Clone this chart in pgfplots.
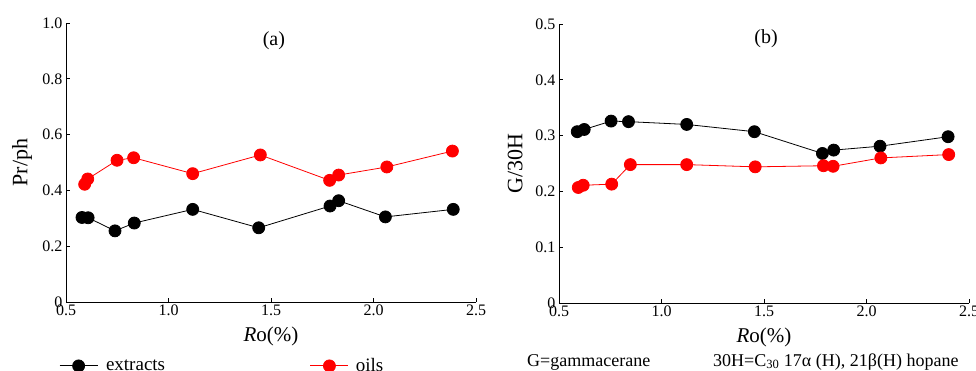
\documentclass[border=0pt]{standalone}
\usepackage{fontspec}
\setmainfont{Liberation Serif}
\usepackage{pgfplots}
\pgfplotsset{compat=1.18}
\pgfplotsset{
 myax/.style={
  scale only axis, width=410pt, height=279pt,
  axis x line*=bottom, axis y line*=left,
  axis line style={black, line width=0.8pt, -},
  xmin=0.5, xmax=2.5,
  xtick={0.5,1,1.5,2,2.5}, xticklabels={0.5,1.0,1.5,2.0,2.5},
  tick align=inside, major tick length=4pt,
  tick style={black, line width=0.8pt},
  /pgf/number format/assume math mode=true,
  ticklabel style={font=\fontsize{16}{16}\selectfont},
  xticklabel style={yshift=1pt},
  label style={font=\fontsize{21}{21}\selectfont},
  xlabel={\textit{R}o(\%)},
  xlabel style={at={(axis description cs:0.5,-0.125)}, anchor=center},
  ylabel style={at={(axis description cs:-0.107,0.5)}, anchor=center, font=\fontsize{22}{22}\selectfont},
  clip=false,
 },
 blk/.style={black, line width=0.8pt, mark=*, mark size=6pt, mark options={fill=black, draw=black}},
 rd/.style={red, line width=0.8pt, mark=*, mark size=6pt, mark options={fill=red, draw=red}},
}
\begin{document}
\begin{tikzpicture}[x=1pt,y=1pt]
\useasboundingbox (0,0) rectangle (976,370);
\begin{axis}[myax, at={(66pt,68pt)}, anchor=south west,
  ymin=0, ymax=1, ytick={0,0.2,0.4,0.6,0.8,1.0}, yticklabels={0,0.2,0.4,0.6,0.8,1.0},
  ylabel={Pr/ph},
  legend columns=2,
  legend style={draw=none, fill=none, at={(axis description cs:-0.017,-0.229)}, anchor=west,
    inner sep=0pt, font=\fontsize{19}{19}\selectfont},
  legend image code/.code={\draw[mark repeat=2,mark phase=2,#1] plot coordinates {(0pt,0pt) (19pt,0pt) (38pt,0pt)};},
  ]
\addplot[blk] coordinates {(0.578,0.303) (0.608,0.302) (0.739,0.255) (0.833,0.283) (1.118,0.332) (1.440,0.266) (1.788,0.344) (1.830,0.363) (2.058,0.305) (2.389,0.332)};
\addlegendentry{\hspace{6pt}\makebox[202pt][l]{extracts}}
\addplot[rd] coordinates {(0.591,0.422) (0.606,0.441) (0.749,0.508) (0.830,0.517) (1.118,0.460) (1.448,0.527) (1.786,0.436) (1.830,0.455) (2.065,0.484) (2.385,0.541)};
\addlegendentry{\hspace{5pt}oils}
\node[font=\fontsize{20}{20}\selectfont] at (axis description cs:0.507,0.935) {(a)};
\end{axis}
\begin{axis}[myax, at={(559pt,67pt)}, anchor=south west,
  ymin=0, ymax=0.5, ytick={0,0.1,0.2,0.3,0.4,0.5}, yticklabels={0,0.1,0.2,0.3,0.4,0.5},
  ylabel={G/30H},
  ]
\addplot[blk] coordinates {(0.589,0.307) (0.623,0.311) (0.754,0.326) (0.839,0.325) (1.123,0.320) (1.453,0.307) (1.785,0.268) (1.840,0.274) (2.066,0.281) (2.398,0.298)};
\addplot[rd] coordinates {(0.594,0.207) (0.618,0.211) (0.757,0.213) (0.848,0.248) (1.123,0.248) (1.457,0.244) (1.790,0.246) (1.837,0.245) (2.070,0.260) (2.401,0.266)};
\node[font=\fontsize{20}{20}\selectfont] at (axis description cs:0.505,0.946) {(b)};
\end{axis}
\node[anchor=base west, inner sep=0pt, font=\fontsize{18}{18}\selectfont] at (527,4) {G=gammacerane};
\node[anchor=base west, inner sep=0pt, font=\fontsize{18}{18}\selectfont] at (713,4) {30H=C\textsubscript{30} 17α (H), 21β(H) hopane};
\end{tikzpicture}
\end{document}
